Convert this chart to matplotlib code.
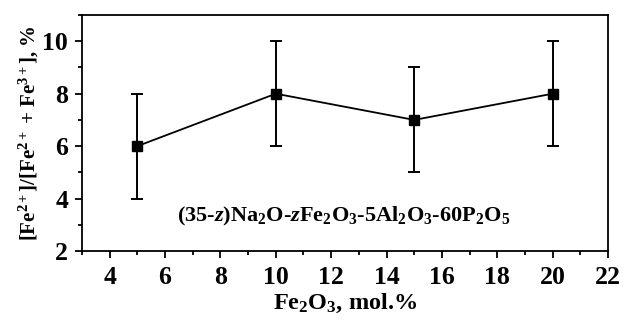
import numpy as np
import matplotlib
matplotlib.use('Agg')
import matplotlib.pyplot as plt
from matplotlib.ticker import MultipleLocator

# Fe2+ fraction vs Fe2O3 content
fe2o3 = [5, 10, 15, 20]
fe2_ratio = [6, 8, 7, 8]
fe2_err = [2, 2, 2, 2]

plt.rcParams['font.family'] = ['Liberation Serif', 'DejaVu Serif']
plt.rcParams['font.weight'] = 'bold'
plt.rcParams['mathtext.fontset'] = 'custom'
plt.rcParams['mathtext.rm'] = 'Liberation Serif:weight=bold'
plt.rcParams['mathtext.it'] = 'Liberation Serif:style=italic:weight=bold'
plt.rcParams['mathtext.bf'] = 'Liberation Serif:weight=bold'

fig = plt.figure(figsize=(6.23, 3.2), dpi=100)
ax = fig.add_axes([0.1316, 0.2156, 0.976 - 0.1316, 0.953 - 0.2156])

ax.errorbar(fe2o3, fe2_ratio, yerr=fe2_err, color='black', lw=1.3,
            marker='s', markersize=7, elinewidth=1.4, capsize=4, capthick=1.4)

ax.set_xlim(3, 22)
ax.set_ylim(2, 11)
ax.xaxis.set_major_locator(MultipleLocator(2))
ax.xaxis.set_minor_locator(MultipleLocator(1))
ax.yaxis.set_major_locator(MultipleLocator(2))
ax.yaxis.set_minor_locator(MultipleLocator(1))
ax.set_xticks(np.arange(4, 23, 2))
ax.tick_params(which='both', direction='out', top=False, right=False,
               labelsize=18.5, width=1.3)
ax.tick_params(which='major', length=5)
ax.tick_params(which='minor', length=3)
ax.tick_params(axis='x', pad=6)
ax.tick_params(axis='y', pad=5)
for s in ax.spines.values():
    s.set_linewidth(1.3)

ax.set_xlabel(r'Fe$_2$O$_3$, mol.%', fontsize=17.5, fontweight='bold', labelpad=2)
ax.set_ylabel(r'[Fe$^{2+}$]/[Fe$^{2+}$ + Fe$^{3+}$], %', fontsize=15,
              fontweight='bold', labelpad=1)

ax.text(12.45, 3.3,
        r'(35-$\mathit{z}$)Na$_2$O-$\mathit{z}$Fe$_2$O$_3$-5Al$_2$O$_3$-60P$_2$O$_5$',
        ha='center', va='center', fontsize=16, fontweight='bold')

fig.savefig('out.png', dpi=100)
